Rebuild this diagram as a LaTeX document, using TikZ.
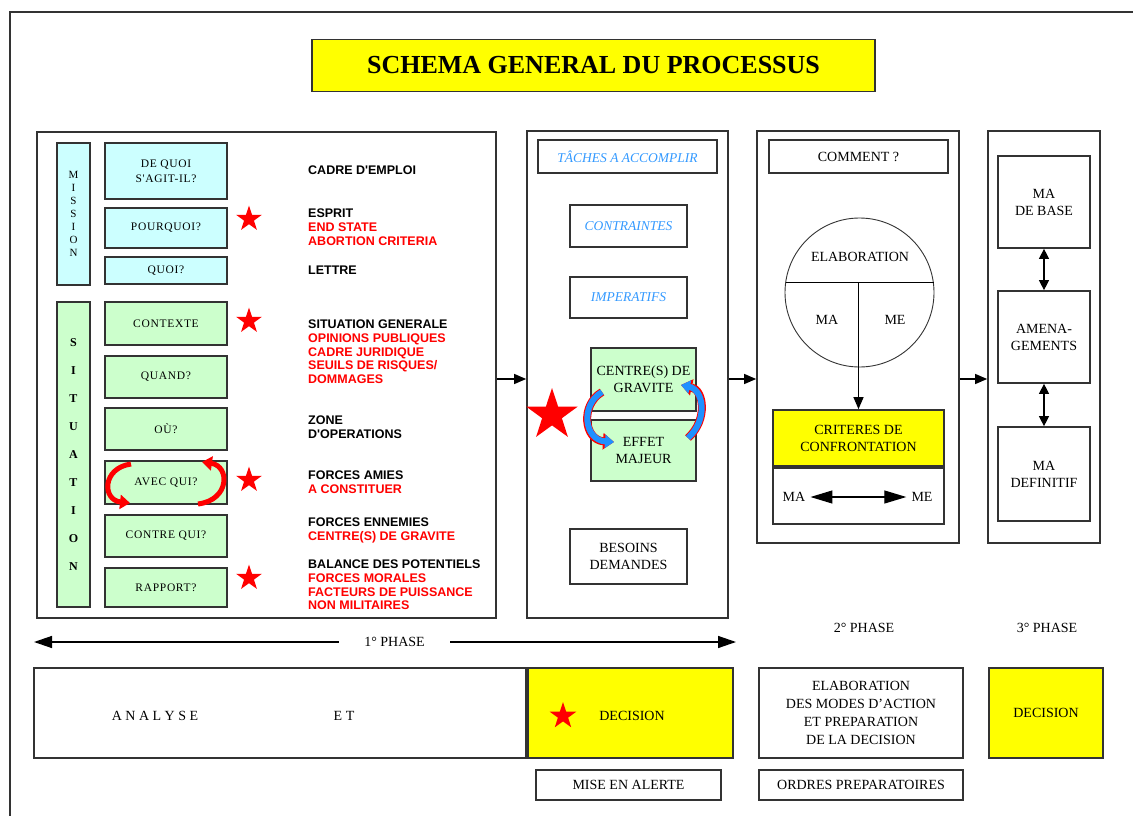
\documentclass[tikz,border=0pt]{standalone}
\usepackage{fontspec}
\setmainfont{Liberation Serif}
\newfontfamily\lblfont{Liberation Sans}
\newfontfamily\boxfont[LetterSpace=6]{Liberation Serif}
\usetikzlibrary{shapes.geometric,arrows.meta}
\definecolor{jaune}{HTML}{FFFF00}
\definecolor{cyanpale}{HTML}{CCFFFF}
\definecolor{vertpale}{HTML}{CCFFCC}
\definecolor{bleu}{HTML}{1E90FF}
\definecolor{bleutxt}{HTML}{3399FF}
\newcommand\rouge[1]{\textcolor{red}{#1}}

\begin{document}
\begin{tikzpicture}[x=1pt,y=-1pt,
    cadre/.style={draw=black!80,line width=1.7pt,inner sep=0pt},
    qbox/.style={cadre,fill=#1,font=\boxfont\fontsize{11.5}{15}\selectfont,align=center,minimum width=122pt},
    qbox/.default=white,
    gbox/.style={cadre,fill=#1,font=\fontsize{14}{17}\selectfont,align=center},
    gbox/.default=white,
    tbox/.style={cadre,font=\itshape\fontsize{13.5}{15}\selectfont,text=bleutxt},
    bar/.style={cadre,fill=#1,minimum width=33pt,align=center},
    lbl/.style={anchor=north west,inner sep=0pt,align=left,font=\lblfont\bfseries\fontsize{12.5}{13.6}\selectfont},
    txt/.style={inner sep=0pt,font=\fontsize{14}{17}\selectfont},
    etoile/.style={star,star points=5,star point ratio=2.6,fill=red,draw=none,inner sep=0pt,minimum size=#1},
    flow/.style={line width=1.2pt,-{Triangle[length=12pt,width=10pt]}},
    dflow/.style={line width=1.2pt,{Triangle[length=10pt,width=10pt]}-{Triangle[length=10pt,width=10pt]}},
    pflow/.style={line width=1.4pt,-{Triangle[length=18pt,width=12pt]}},
    mflow/.style={line width=1.2pt,{Triangle[length=22pt,width=13pt]}-{Triangle[length=22pt,width=13pt]}},
    rcycle/.style={draw=red,line width=5pt,-{Triangle[length=10pt,width=14pt]}},
    bcycle/.style={draw=bleu,line width=6pt,-{Triangle[length=9pt,width=13pt]},
      preaction={draw=red,line width=8pt,-{Triangle[length=11pt,width=16pt]}}}
  ]
  \useasboundingbox (0,0) rectangle (1133,816);
  \draw[line width=1.8pt,black!80] (10,816) -- (10,12) -- (1133,12);

  \node[cadre,fill=jaune,minimum width=563pt,minimum height=52pt,font=\bfseries\fontsize{26}{30}\selectfont] (titre) at (593.5,65.5) {SCHEMA GENERAL DU PROCESSUS};

  \node[cadre,minimum width=459pt,minimum height=486pt] (pan1) at (266.5,375) {};
  \node[cadre,minimum width=201pt,minimum height=487pt] (pan2) at (627.5,374.5) {};
  \node[cadre,minimum width=202pt,minimum height=412pt] (pan3) at (858,337) {};
  \node[cadre,minimum width=112pt,minimum height=412pt] (pan4) at (1044,337) {};
  \coordinate (rang) at (0,379);
  \draw[flow] (pan1.east |- rang) -- (pan2.west |- rang);
  \draw[flow] (pan2.east |- rang) -- (pan3.west |- rang);
  \draw[flow] (pan3.east |- rang) -- (pan4.west |- rang);

  \node[bar=cyanpale,minimum height=142pt,font=\fontsize{11}{13}\selectfont] (mission) at (73.5,214) {M\\I\\S\\S\\I\\O\\N};
  \node[qbox=cyanpale,minimum height=56pt] (dequoi) at (166,171) {DE QUOI\\S'AGIT-IL?};
  \node[qbox=cyanpale,minimum height=40pt] (pourquoi) at (166,228) {POURQUOI?};
  \node[qbox=cyanpale,minimum height=27pt] (quoi) at (166,270.5) {QUOI?};
  \node[bar=vertpale,minimum height=305pt,font=\bfseries\fontsize{12}{28}\selectfont] (situation) at (73.5,454.5) {S\\I\\T\\U\\A\\T\\I\\O\\N};
  \node[qbox=vertpale,minimum height=43pt] (contexte) at (166,323.5) {CONTEXTE};
  \node[qbox=vertpale,minimum height=42pt] (quand) at (166,377) {QUAND?};
  \node[qbox=vertpale,minimum height=42pt] (ou) at (166,429) {OÙ?};
  \node[qbox=vertpale,minimum height=43pt] (avec) at (166,482.5) {AVEC QUI?};
  \node[qbox=vertpale,minimum height=42pt] (contre) at (166,536) {CONTRE QUI?};
  \node[qbox=vertpale,minimum height=39pt] (rapport) at (166,587.5) {RAPPORT?};
  \draw[rcycle] (131,464) .. controls (102,468) and (102,500) .. (130,503);
  \draw[rcycle] (198,504) .. controls (230,500) and (230,466) .. (202,462);

  \node[etoile=27pt] (e1) at (249,219) {};
  \node[etoile=27pt] (e2) at (249,321) {};
  \node[etoile=27pt] (e3) at (249,480) {};
  \node[etoile=27pt] (e4) at (249,578) {};

  \node[lbl] (lcadre) at (308,166) {CADRE D'EMPLOI};
  \node[lbl] (lesprit) at (308,209) {ESPRIT\\\rouge{END STATE}\\\rouge{ABORTION CRITERIA}};
  \node[lbl] (llettre) at (308,266) {LETTRE};
  \node[lbl] (lsitu) at (308,320) {SITUATION GENERALE\\\rouge{OPINIONS PUBLIQUES}\\\rouge{CADRE JURIDIQUE}\\\rouge{SEUILS DE RISQUES/}\\\rouge{DOMMAGES}};
  \node[lbl] (lzone) at (308,416) {ZONE\\D'OPERATIONS};
  \node[lbl] (lamies) at (308,471) {FORCES AMIES\\\rouge{A CONSTITUER}};
  \node[lbl] (lennemies) at (308,518) {FORCES ENNEMIES\\\rouge{CENTRE(S) DE GRAVITE}};
  \node[lbl] (lbalance) at (308,560) {BALANCE DES POTENTIELS\\\rouge{FORCES MORALES}\\\rouge{FACTEURS DE PUISSANCE}\\\rouge{NON MILITAIRES}};

  \node[tbox,minimum width=179pt,minimum height=33pt] (taches) at (627.5,156.5) {TÂCHES A ACCOMPLIR};
  \node[tbox,minimum width=117pt,minimum height=42pt] (contraintes) at (628.5,226) {CONTRAINTES};
  \node[tbox,minimum width=117pt,minimum height=41pt] (imperatifs) at (628.5,297.5) {IMPERATIFS};
  \node[gbox=vertpale,minimum width=105pt,minimum height=63pt] (cdg) at (643.5,379.5) {CENTRE(S) DE\\GRAVITE};
  \node[gbox=vertpale,minimum width=105pt,minimum height=61pt] (effet) at (643.5,450.5) {EFFET\\MAJEUR};
  \node[gbox,minimum width=117pt,minimum height=55pt] (besoins) at (628.5,556.5) {BESOINS\\DEMANDES};
  \node[etoile=54pt] (egrand) at (552,415) {};
  \draw[bcycle] (602,392) .. controls (580,405) and (584,440) .. (614,442);
  \draw[bcycle] (688,438) .. controls (708,420) and (704,390) .. (681,385);

  \node[gbox,minimum width=179pt,minimum height=33pt] (comment) at (858.5,156.5) {COMMENT ?};
  \node[draw=black!80,line width=0.9pt,circle,minimum size=149pt,inner sep=0pt] (cercle) at (859.5,292.5) {};
  \node[txt] (elabo) at (860,257) {ELABORATION};
  \node[txt] (cma) at (827,320) {MA};
  \node[txt] (cme) at (895,320) {ME};
  \coordinate (axe) at (858.5,282);
  \coordinate (cordeg) at (785.5,282);
  \coordinate (corded) at (933.5,282);
  \draw[line width=1pt] (cordeg) -- (corded);
  \node[gbox=jaune,minimum width=171pt,minimum height=56pt] (crit) at (858.5,438) {CRITERES DE\\CONFRONTATION};
  \node[cadre,minimum width=171pt,minimum height=56pt,anchor=north] (confr) at (crit.south) {};
  \draw[flow] (axe) -- (crit.north);
  \node[txt,inner sep=5pt] (confma) at (794,497) {MA};
  \node[txt,inner sep=5pt] (confme) at (922,497) {ME};
  \draw[mflow] (confma) -- (confme);

  \node[gbox,minimum width=92pt,minimum height=92pt] (mabase) at (1044,202) {MA\\DE BASE};
  \node[gbox,minimum width=92pt,minimum height=92pt] (amenag) at (1044,337) {AMENA-\\GEMENTS};
  \node[gbox,minimum width=92pt,minimum height=94pt] (madef) at (1044,474) {MA\\DEFINITIF};
  \draw[dflow] (mabase) -- (amenag);
  \draw[dflow] (amenag) -- (madef);

  \coordinate (phg) at (34,642);
  \coordinate (phd) at (736,642);
  \node[txt,minimum width=111pt] (phase1) at (394.5,642) {1° PHASE};
  \draw[pflow] (phase1.west) -- (phg);
  \draw[pflow] (phase1.east) -- (phd);
  \node[txt] (phase2) at (864,628) {2° PHASE};
  \node[txt] (phase3) at (1047,628) {3° PHASE};

  \node[gbox,minimum width=492pt,minimum height=90pt] (analyse) at (280,713) {};
  \node[gbox=jaune,minimum width=205pt,minimum height=90pt,anchor=west] (decision) at (analyse.east) {};
  \node[txt] (tanalyse) at (155,716) {A N A L Y S E};
  \node[txt] (tet) at (344,716) {E T};
  \node[etoile=28pt] (epetite) at (563,716) {};
  \node[txt] (tdecision) at (632,716) {DECISION};
  \node[gbox,minimum width=204pt,minimum height=90pt,font=\fontsize{14}{18}\selectfont] (modes) at (861,713) {ELABORATION\\DES MODES D'ACTION\\ET PREPARATION\\DE LA DECISION};
  \node[gbox=jaune,minimum width=114pt,minimum height=90pt] (decision3) at (1046,713) {DECISION};
  \node[gbox,minimum width=185pt,minimum height=30pt] (alerte) at (628.5,785) {MISE EN ALERTE};
  \node[gbox,minimum width=204pt,minimum height=30pt] (ordres) at (861,785) {ORDRES PREPARATOIRES};
\end{tikzpicture}
\end{document}
